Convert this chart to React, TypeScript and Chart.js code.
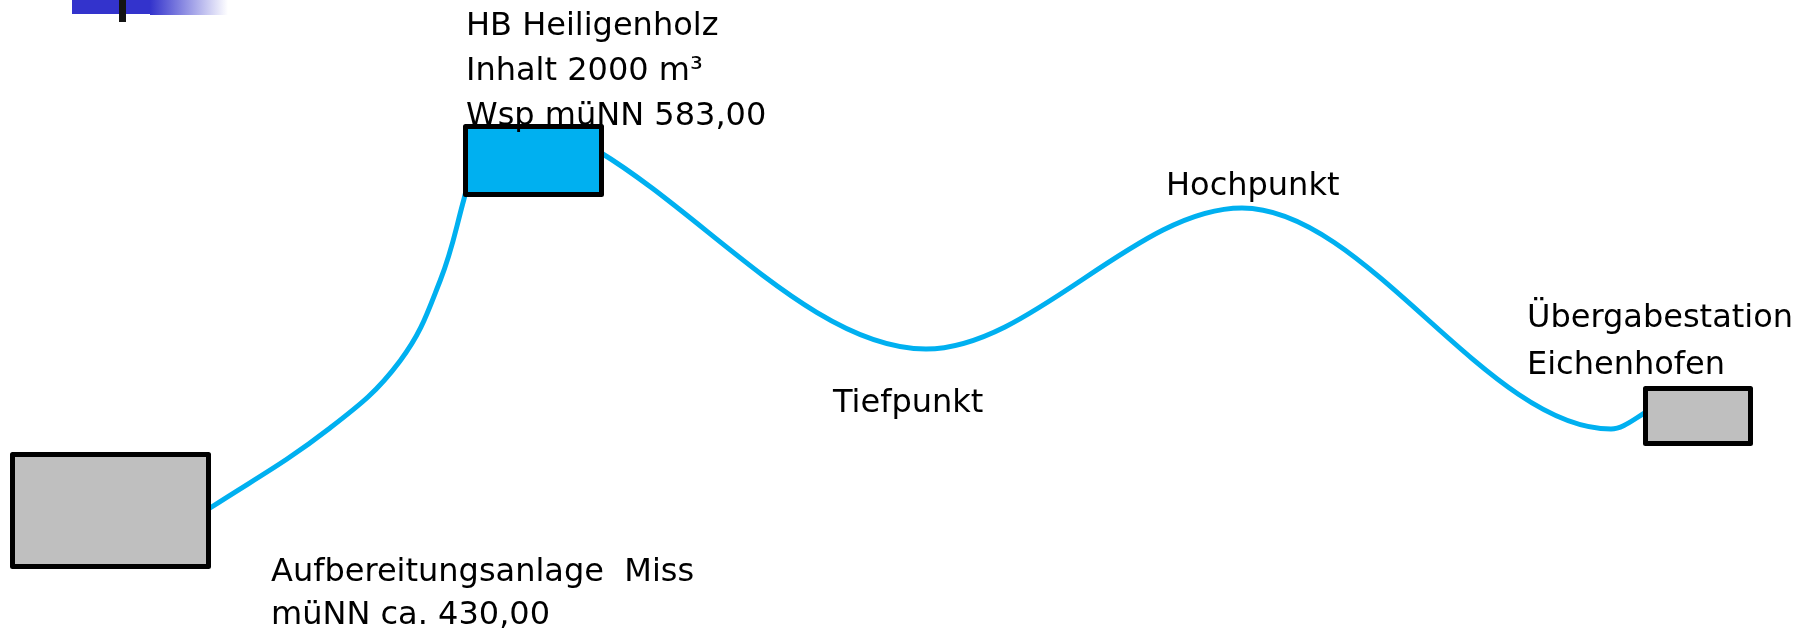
import React, { useEffect, useRef } from "react";
import { Chart, registerables } from "chart.js";

Chart.register(...registerables);

const CANVAS_W = 1816;
const CANVAS_H = 630;

// Pipeline profile, rising part: Aufbereitungsanlage -> HB Heiligenholz (diagram units;
// first and last points lie inside the station boxes)
const riseX = [160, 210, 330, 400, 440, 464, 470];
const riseY = [538, 508, 428, 361, 281, 199, 172];

// Pipeline profile, main part: HB Heiligenholz -> Tiefpunkt -> Hochpunkt -> Übergabestation
const mainX = [598, 926, 1242, 1611, 1650];
const mainY = [151, 349, 208, 429, 410];

// Stations (boxes), outer edges in diagram units
const boxLeft = [10, 463, 1643];
const boxRight = [211, 604, 1753];
const boxTop = [452, 124, 386];
const boxBottom = [569, 197, 446];
const boxFill = ["#BFBFBF", "#00B0F0", "#BFBFBF"];

// Text labels
const labelLines = [
  ["HB Heiligenholz", "Inhalt 2000 m³", "Wsp müNN 583,00"],
  ["Hochpunkt"],
  ["Tiefpunkt"],
  ["Übergabestation", "Eichenhofen"],
  ["Aufbereitungsanlage  Miss", "müNN ca. 430,00"],
];
const labelX = [466, 1166, 833, 1527, 271];
const labelBaseline = [35, 195, 412, 327, 581];
const labelLineStep = [45, 0, 0, 47, 43];

// Title-bar decoration (top-left)
const decoBarX = [72, 150];
const decoBarY = [0, 14];
const decoFadeX = [150, 228];
const decoFadeY = [0, 15];
const decoStemX = [119, 126];
const decoStemY = [0, 22];

const diagramPlugin = {
  id: "diagramPlugin",
  beforeDatasetsDraw(chart: any) {
    const { ctx, scales } = chart;
    const sx = scales.x;
    const sy = scales.y;
    ctx.save();
    ctx.fillStyle = "#3333CC";
    ctx.fillRect(
      sx.getPixelForValue(decoBarX[0]),
      sy.getPixelForValue(decoBarY[0]),
      sx.getPixelForValue(decoBarX[1]) - sx.getPixelForValue(decoBarX[0]),
      sy.getPixelForValue(decoBarY[1]) - sy.getPixelForValue(decoBarY[0])
    );
    const fx0 = sx.getPixelForValue(decoFadeX[0]);
    const fx1 = sx.getPixelForValue(decoFadeX[1]);
    const grad = ctx.createLinearGradient(fx0, 0, fx1, 0);
    grad.addColorStop(0, "#3333CC");
    grad.addColorStop(1, "#FFFFFF");
    ctx.fillStyle = grad;
    ctx.fillRect(
      fx0,
      sy.getPixelForValue(decoFadeY[0]),
      fx1 - fx0,
      sy.getPixelForValue(decoFadeY[1]) - sy.getPixelForValue(decoFadeY[0])
    );
    ctx.fillStyle = "#141414";
    ctx.fillRect(
      sx.getPixelForValue(decoStemX[0]),
      sy.getPixelForValue(decoStemY[0]),
      sx.getPixelForValue(decoStemX[1]) - sx.getPixelForValue(decoStemX[0]),
      sy.getPixelForValue(decoStemY[1]) - sy.getPixelForValue(decoStemY[0])
    );
    ctx.restore();
  },
  afterDatasetsDraw(chart: any) {
    const { ctx, scales } = chart;
    const sx = scales.x;
    const sy = scales.y;
    ctx.save();
    const lw = 5;
    ctx.lineWidth = lw;
    ctx.lineJoin = "round";
    ctx.strokeStyle = "#000000";
    for (let i = 0; i < boxLeft.length; i++) {
      const x0 = sx.getPixelForValue(boxLeft[i]) + lw / 2;
      const x1 = sx.getPixelForValue(boxRight[i]) - lw / 2;
      const y0 = sy.getPixelForValue(boxTop[i]) + lw / 2;
      const y1 = sy.getPixelForValue(boxBottom[i]) - lw / 2;
      ctx.fillStyle = boxFill[i];
      ctx.beginPath();
      ctx.rect(x0, y0, x1 - x0, y1 - y0);
      ctx.fill();
      ctx.stroke();
    }
    ctx.fillStyle = "#000000";
    ctx.font = '32px "DejaVu Sans"';
    ctx.textAlign = "left";
    ctx.textBaseline = "alphabetic";
    for (let i = 0; i < labelLines.length; i++) {
      labelLines[i].forEach((line, j) => {
        ctx.fillText(
          line,
          sx.getPixelForValue(labelX[i]),
          sy.getPixelForValue(labelBaseline[i] + j * labelLineStep[i])
        );
      });
    }
    ctx.restore();
  },
};

export default function App() {
  const canvasRef = useRef<HTMLCanvasElement | null>(null);

  useEffect(() => {
    const canvas = canvasRef.current;
    if (!canvas) return;
    const lineStyle = {
      borderColor: "#00B0F0",
      borderWidth: 5,
      pointRadius: 0,
      fill: false,
      borderCapStyle: "round" as const,
      borderJoinStyle: "round" as const,
    };
    const chart = new Chart(canvas, {
      type: "line",
      data: {
        datasets: [
          {
            label: "Steigleitung",
            data: riseX.map((x, i) => ({ x, y: riseY[i] })),
            ...lineStyle,
            tension: 0.4,
            cubicInterpolationMode: "default" as const,
          },
          {
            label: "Versorgungsleitung",
            data: mainX.map((x, i) => ({ x, y: mainY[i] })),
            ...lineStyle,
            cubicInterpolationMode: "monotone" as const,
          },
        ],
      },
      options: {
        animation: false,
        responsive: false,
        maintainAspectRatio: false,
        devicePixelRatio: 1,
        events: [],
        layout: { padding: 0 },
        scales: {
          x: { type: "linear", min: 0, max: CANVAS_W, display: false },
          y: { type: "linear", min: 0, max: CANVAS_H, reverse: true, display: false },
        },
        plugins: {
          legend: { display: false },
          tooltip: { enabled: false },
        },
      },
      plugins: [diagramPlugin],
    });
    return () => chart.destroy();
  }, []);

  return (
    <div style={{ position: "absolute", left: 0, top: 0, width: CANVAS_W, height: CANVAS_H, background: "#ffffff" }}>
      <canvas ref={canvasRef} width={CANVAS_W} height={CANVAS_H} style={{ display: "block" }} />
    </div>
  );
}
